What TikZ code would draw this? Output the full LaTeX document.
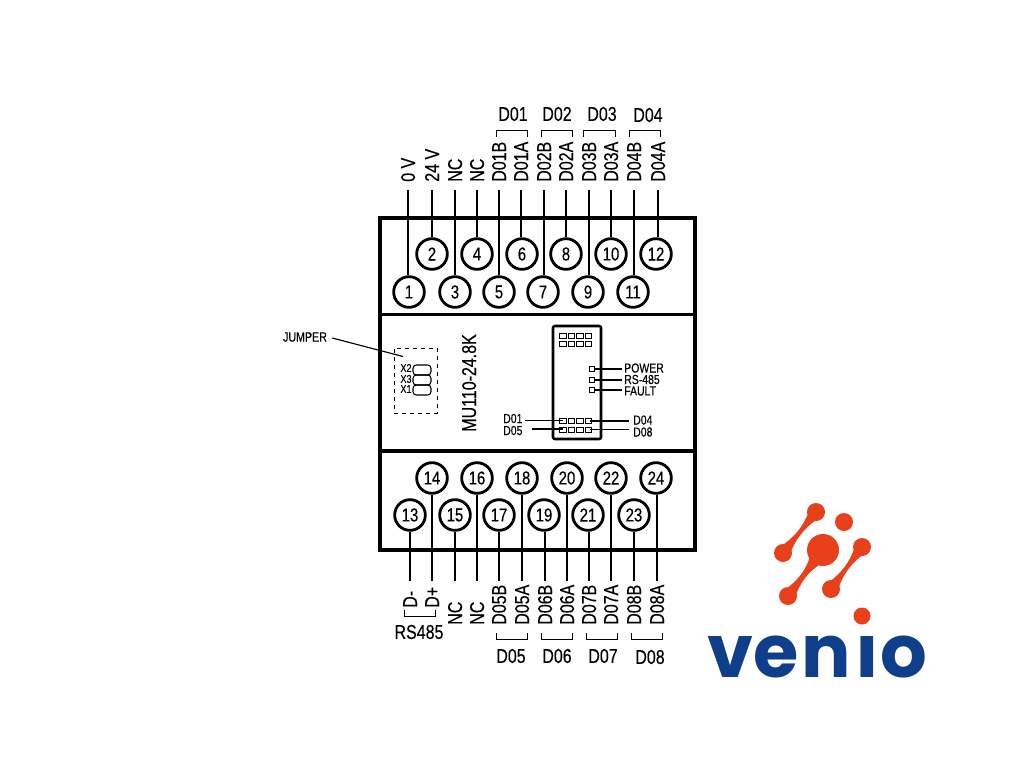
\documentclass[tikz,border=0pt]{standalone}
\usepackage{fontspec}
\newfontfamily\nar[FakeStretch=0.8,FakeBold=0.25]{Liberation Sans}
\newfontfamily\logofont{Poppins}
\definecolor{vorange}{HTML}{E8401A}
\definecolor{vblue}{HTML}{0F3F8A}
\newcommand{\bonepath}[6]{%
 \pgfmathsetmacro{\dx}{#4-#1}\pgfmathsetmacro{\dy}{#5-#2}%
 \pgfmathsetmacro{\len}{sqrt(\dx*\dx+\dy*\dy)}%
 \pgfmathsetmacro{\nx}{-\dy/\len}\pgfmathsetmacro{\ny}{\dx/\len}%
 \fill[vorange] (#1+\nx*#3*.8,#2+\ny*#3*.8)
  .. controls (#1+\dx*.35+\nx*.5,#2+\dy*.35+\ny*.5) and (#1+\dx*.65+\nx*.5,#2+\dy*.65+\ny*.5) .. (#4+\nx*#6*.8,#5+\ny*#6*.8)
  -- (#4-\nx*#6*.8,#5-\ny*#6*.8)
  .. controls (#1+\dx*.65-\nx*.5,#2+\dy*.65-\ny*.5) and (#1+\dx*.35-\nx*.5,#2+\dy*.35-\ny*.5) .. (#1-\nx*#3*.8,#2-\ny*#3*.8) -- cycle;
 \fill[vorange] (#1,#2) circle (#3) (#4,#5) circle (#6);}
\tikzset{
 pin/.style={circle,draw,fill=white,line width=2.1pt,minimum size=23pt,inner sep=0pt,font=\nar\fontsize{14}{14}\selectfont},
 wire/.style={line width=1.1pt},
 thin wire/.style={line width=.85pt},
 lab/.style={rotate=90,anchor=base west,inner sep=0pt,font=\nar\fontsize{15}{15}\selectfont},
 grp/.style={inner sep=0pt,font=\nar\fontsize{15}{15}\selectfont},
 led/.style={inner sep=0pt,anchor=west,font=\nar\fontsize{9.8}{9.8}\selectfont},
 sq/.style={draw,line width=.6pt,minimum width=5pt,minimum height=3.6pt,inner sep=0pt},
 ledsq/.style={draw,line width=.6pt,minimum width=3.8pt,minimum height=3.8pt,inner sep=0pt},
 brk/.style={line width=.6pt},
 housing/.style={line width=2.4pt},
}
\begin{document}
\begin{tikzpicture}[x=.75pt,y=-.75pt]
\useasboundingbox (0,0) rectangle (1024,768);
\fill[white] (0,0) rectangle (1024,768);
% housing
\draw[housing] (380,218) rectangle (695,550);
\draw[housing] (380,314.5) -- (695,314.5);
\draw[housing] (380,451) -- (695,451);
% top pins
\foreach \n/\x/\y/\lx/\txt in {1/409/292/408/0 V,2/432/254/432/24 V,3/455/292/455/NC,4/477/254/477/NC,5/499/292/499/D01B,6/522/254/521/D01A,7/543/292/544/D02B,8/566/254/566/D02A,9/588/292/589/D03B,10/611/254/611/D03A,11/633/292/634/D04B,12/656/254/658/D04A}{
 \node[pin] (t\n) at (\x,\y) {\n};
 \coordinate (tc\n) at (\lx,190);
 \draw[wire] (tc\n) -- (tc\n |- t\n.north);
 \node[lab] (tl\n) at (\lx+7,182) {\txt};
}
% bottom pins
\foreach \n/\x/\y/\lx/\ly/\txt in {13/410/515/410/608/D-,14/432/478/432/608/D+,15/455/515/455/625/NC,16/477/478/477/625/NC,17/499/515/499/625/D05B,18/522/478/522/625/D05A,19/544/515/545/625/D06B,20/567/478/567/625/D06A,21/588/515/589/625/D07B,22/611/478/611/625/D07A,23/634/515/634/625/D08B,24/656/478/657/625/D08A}{
 \node[pin] (t\n) at (\x,\y) {\n};
 \coordinate (bc\n) at (\lx,581);
 \draw[wire] (t\n.south -| bc\n) -- (bc\n);
 \node[lab] (bl\n) at (\lx+7,\ly) {\txt};
}
% group labels and brackets
\foreach \t/\x/\y/\a/\b in {D01/513/114/496/527,D02/557/114/541/572,D03/602/114/583/615,D04/648/115/629/660}{
 \node[grp] (g\t) at (\x,\y) {\t};
 \draw[brk] (\a,137) -- (\a,130) -- (\b,130) -- (\b,137);
}
\foreach \t/\x/\y/\a/\b in {D05/511/656/496/527,D06/557/656/541/572,D07/603/656/586/617,D08/650/657/631/662}{
 \node[grp] (g\t) at (\x,\y) {\t};
 \draw[brk] (\a,633) -- (\a,639) -- (\b,639) -- (\b,633);
}
\node[grp] (rs) at (419,632) {RS485};
\draw[brk] (404,610) -- (404,616) -- (435,616) -- (435,610);
% jumper
\node[inner sep=0pt,font=\nar\fontsize{10}{10}\selectfont] (jp) at (305,337) {JUMPER};
\node[draw,dashed,line width=.6pt,minimum width=32.2pt,minimum height=48.7pt,inner sep=0pt] (jb) at (415.5,380.5) {};
\coordinate (jt) at (403,356.5);
\draw[thin wire] (jp.east)+(5,1) -- (jt);
\foreach \t/\y in {X2/368,X3/379,X1/389}{
 \node[inner sep=0pt,font=\nar\fontsize{8.5}{8.5}\selectfont] (l\t) at (406,\y) {\t};
}
\foreach \y in {365,375,385}{
 \draw[line width=.8pt,rounded corners=2.5pt] (413,\y) rectangle (431,\y+10);
}
% model
\node[lab] (model) at (476,432) {MU110-24.8K};
% LED module
\draw[line width=1.9pt,rounded corners=1.5pt] (553,326) rectangle (601,439);
\foreach \y in {335.5,343.5,421,429.5}{
 \foreach \x in {563,571.5,580,588.5}{
  \node[sq] at (\x,\y) {};
 }
}
\foreach \t/\y/\ty in {POWER/369/368,RS-485/380/379.5,FAULT/390/391}{
 \node[ledsq] (s\t) at (592,\y) {};
 \node[led] (n\t) at (624,\ty) {\t};
 \draw[thin wire] (s\t) -- (622,\y);
}
\node[led] (a1) at (503,418.5) {D01};
\node[led] (a5) at (503,430.5) {D05};
\node[led] (a4) at (633,420) {D04};
\node[led] (a8) at (633,432) {D08};
\coordinate (a1c) at (563,420.5);
\coordinate (a5c) at (563,429);
\coordinate (a4c) at (590,421);
\coordinate (a8c) at (590,429.5);
\draw[thin wire] (525,420.5) -- (a1c);
\draw[thin wire] (532,429) -- (a5c);
\draw[thin wire] (a4c) -- (629,421);
\draw[thin wire] (a8c) -- (629,429.5);
% logo
\bonepath{816}{512}{9}{783}{553}{9}
\bonepath{862}{547}{9}{831}{589}{9}
\bonepath{823}{550}{16}{788}{596}{9}
\fill[vorange] (844,522) circle (9);
\node[inner sep=0pt,anchor=base west,text=vblue,font=\logofont\bfseries\fontsize{66}{66}\selectfont] (venio) at (707,677) {\resizebox{165pt}{!}{ve\kern 3pt n\kern 4pt ı\kern 1pt o}};
\fill[vorange] (862,616) circle (8.5);
\end{tikzpicture}
\end{document}
